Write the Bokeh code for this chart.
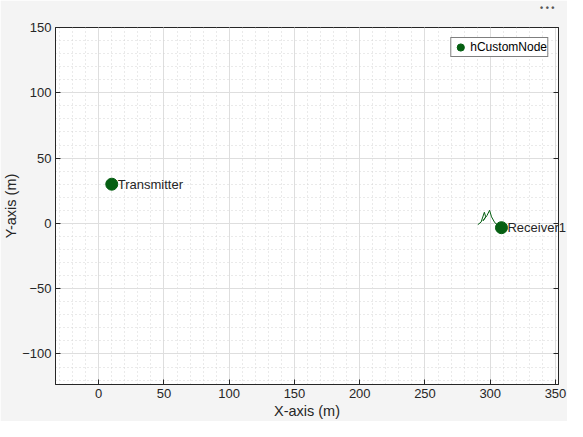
from bokeh.plotting import figure
from bokeh.models import (Range1d, SingleIntervalTicker, LinearAxis, ColumnDataSource,
                          Label, Legend, LegendItem, CustomJSTickFormatter)
from bokeh.embed import file_html
from bokeh.resources import INLINE

# ---- data ----
node_names = ["Transmitter", "Receiver1"]
node_x = [10.0, 308.6]
node_y = [30.0, -3.3]
path_x = [290.5, 293.0, 295.5, 296.5, 294.5, 297.5, 299.5, 301.0, 303.5, 308.6]
path_y = [-1.0, 1.0, 8.5, 5.0, 2.0, 6.0, 10.0, 5.0, 0.5, -3.3]
legend_label = "hCustomNode"
x_limits = (-33.1, 352.3)
y_limits = (-123.4, 150.0)
x_title = "X-axis (m)"
y_title = "Y-axis (m)"

FONT = "Liberation Sans"
TXT = "#262626"
GREEN = "#055f12"
BG = "#f4f4f4"

p = figure(width=567, height=421, output_backend="svg", toolbar_location=None,
           x_range=Range1d(*x_limits), y_range=Range1d(*y_limits),
           background_fill_color="white", border_fill_color=BG,
           min_border_left=46, min_border_right=9, min_border_top=21, min_border_bottom=37)
p.outline_line_color = TXT
p.outline_line_width = 1

p.title.text = "\u2022 \u2022 \u2022"
p.title.align = "right"
p.title.text_font_size = "9px"
p.title.text_color = "#555555"
p.title.offset = 4
p.title.standoff = 0

xt = SingleIntervalTicker(interval=50, num_minor_ticks=5)
yt = SingleIntervalTicker(interval=50, num_minor_ticks=5)
p.xaxis.ticker = xt
p.yaxis.ticker = yt
p.xgrid.ticker = xt
p.ygrid.ticker = yt

for ax, lab in ((p.xaxis, x_title), (p.yaxis, y_title)):
    ax.axis_label = lab
    ax.axis_label_text_font = FONT
    ax.axis_label_text_font_size = "14.5px"
    ax.axis_label_text_font_style = "normal"
    ax.axis_label_text_color = TXT
    ax.major_label_text_font = FONT
    ax.major_label_text_font_size = "13px"
    ax.major_label_text_color = TXT
    ax.axis_line_color = TXT
    ax.major_tick_line_color = TXT
    ax.major_tick_in = 5
    ax.major_tick_out = 0
    ax.minor_tick_in = 0
    ax.minor_tick_out = 0
    ax.major_label_standoff = 4
    ax.axis_label_standoff = 2
p.yaxis.major_label_standoff = 4
p.yaxis.axis_label_standoff = 0

blank = CustomJSTickFormatter(code="return ''")
right_axis = LinearAxis(ticker=yt, formatter=blank, major_label_standoff=0,
                        major_label_text_font_size="10px",
                        axis_line_color=TXT, major_tick_line_color=TXT,
                        major_tick_in=5, major_tick_out=0, minor_tick_in=0, minor_tick_out=0)
p.add_layout(right_axis, "right")

for g in (p.xgrid, p.ygrid):
    g.grid_line_color = "#dedede"
    g.grid_line_width = 1
    g.minor_grid_line_color = "#d4d4d4"
    g.minor_grid_line_dash = "1 3"
    g.minor_grid_line_width = 1

# trajectory
p.line(path_x, path_y, line_color=GREEN, line_width=1)

src = ColumnDataSource(dict(x=node_x, y=node_y, name=node_names))
nodes = p.scatter("x", "y", source=src, size=12, fill_color=GREEN, line_color=GREEN)

# labels that would run past the right edge of the frame are placed in a side
# panel so that they are not clipped (as the reference text crosses the box)
for nx, ny, nm in zip(node_x, node_y, node_names):
    lbl = Label(x=nx, y=ny, text=nm, x_offset=6, y_offset=0,
                text_baseline="middle", text_font=FONT, text_font_size="13px",
                text_color=TXT)
    if nx > 0.75 * x_limits[1]:
        p.add_layout(lbl, "above")
    else:
        p.add_layout(lbl)

legend = Legend(items=[LegendItem(label=legend_label, renderers=[nodes])],
                location="top_right", glyph_width=18, glyph_height=18,
                label_standoff=1, label_text_font=FONT, label_text_font_size="12px",
                label_text_color="black", label_height=16, spacing=0, padding=0,
                margin=10, border_line_color="black", border_line_width=1,
                background_fill_color="white", background_fill_alpha=1)
p.add_layout(legend)

open("out.html", "w").write(file_html(p, INLINE))
